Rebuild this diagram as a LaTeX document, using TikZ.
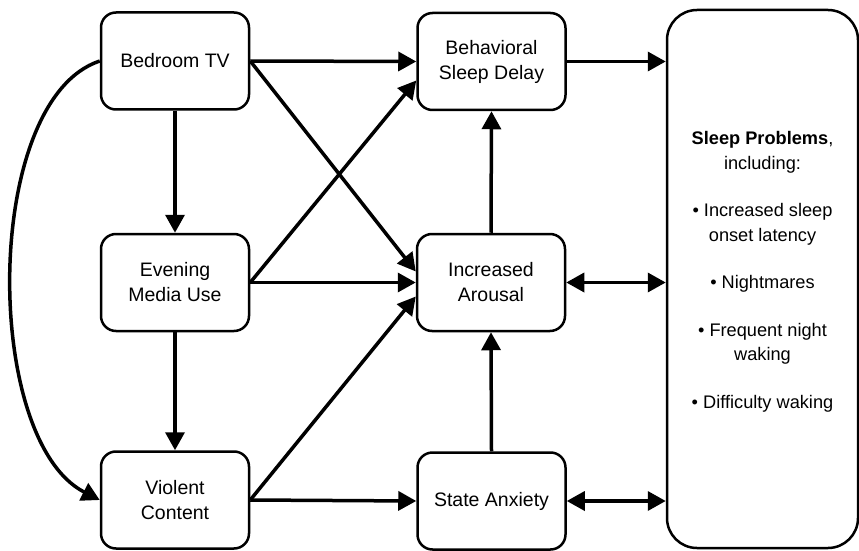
\documentclass[tikz,border=0pt]{standalone}
\usepackage{fontspec}
\setmainfont{Liberation Sans}
\usetikzlibrary{arrows.meta,calc}
\begin{document}
\begin{tikzpicture}[x=1pt,y=1pt,
  box/.style={draw, line width=2.5pt, rounded corners=15pt, minimum width=148pt, minimum height=97pt, align=center, font=\fontsize{19.5}{25}\selectfont, inner sep=0pt},
  bigbox/.style={draw, line width=2.5pt, rounded corners=30pt, minimum width=191pt, minimum height=538pt, inner sep=0pt},
  sptext/.style={align=center, font=\fontsize{18.2}{24.5}\selectfont, inner sep=0pt},
  conn/.style={line width=3.5pt, -{Triangle[length=18pt,width=19pt]}},
  dconn/.style={line width=3.5pt, {Triangle[length=18pt,width=19pt]}-{Triangle[length=18pt,width=19pt]}}]
\fill[white] (0,0) rectangle (859,550);
\useasboundingbox (0,0) rectangle (859,550);

\node[box] (btv) at (175,489) {Bedroom TV};
\node[box] (emu) at (175,267.5) {Evening\\Media Use};
\node[box] (vc) at (175,50) {Violent\\Content};
\node[box] (bsd) at (491.5,488.5) {Behavioral\\Sleep Delay};
\node[box] (ia) at (491,267.5) {Increased\\Arousal};
\node[box] (sa) at (491.5,49) {State Anxiety};
\node[bigbox] (sp) at (762.5,271) {};
\node[sptext] (spt) at ([yshift=7pt]sp.center) {\textbf{Sleep Problems},\\ including:\\[23pt] • Increased sleep\\ onset latency\\[23pt] • Nightmares\\[23pt] • Frequent night\\ waking\\[23pt] • Difficulty waking};

\draw[conn] (btv.east) -- (bsd.west);
\draw[conn] (btv.east) -- ([yshift=11pt]ia.west);
\draw[conn] (emu.east) -- ([yshift=-19pt]bsd.west);
\draw[conn] (emu.east) -- (ia.west);
\draw[conn] (vc.east) -- ([yshift=-14pt]ia.west);
\draw[conn] (vc.east) -- (sa.west);
\draw[conn] (btv.south) -- (emu.north);
\draw[conn] (emu.south) -- (vc.north);
\draw[conn] (ia.north) -- (bsd.south);
\draw[conn] (sa.north) -- (ia.south);
\draw[conn] (bsd.east) -- (bsd.east -| sp.west);
\draw[dconn] (ia.east) -- (ia.east -| sp.west);
\draw[dconn] (sa.east) -- (sa.east -| sp.west);
\draw[conn] (btv.west) .. controls (-17.7,450) and (-17.7,110) .. (vc.west);
\end{tikzpicture}
\end{document}
